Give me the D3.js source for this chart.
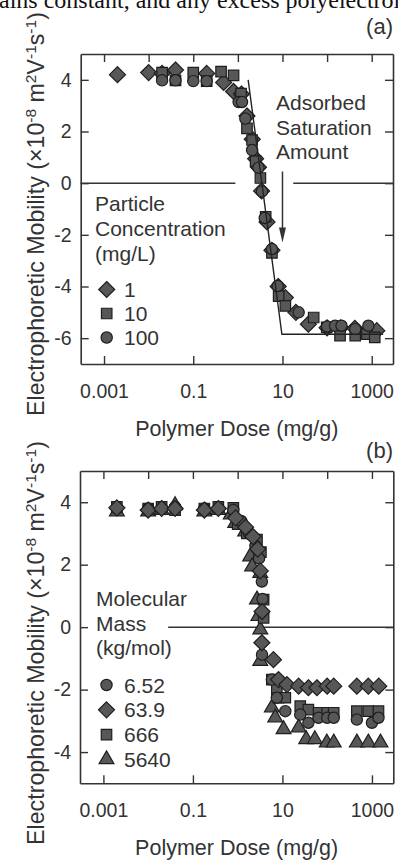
<!DOCTYPE html>
<html><head><meta charset="utf-8">
<script src="https://cdn.jsdelivr.net/npm/d3@7"></script>
<style>
html,body{margin:0;padding:0;background:#fff;overflow:hidden}
svg{display:block}
text{font-family:"Liberation Sans",Arial,sans-serif;fill:#333}
</style></head><body>
<svg id="c" width="398" height="860"></svg>
<script>
// ---------- DATA ----------
const xTicksAll = [0.001, 0.01, 0.1, 1, 10, 100, 1000];
const xTicksLabeled = [0.001, 0.1, 10, 1000];
const yTicksA = [-6, -4, -2, 0, 2, 4];
const yTicksB = [-4, -2, 0, 2, 4];

// Panel (a): particle concentration (mg/L)
const legendA = ["1", "10", "100"];
const a_c1 = [[0.002,4.2],[0.01,4.28],[0.02,4.25],[0.04,4.38],[0.2,4.25],[0.48,3.9],[0.8,3.55],[1.2,3.45],[1.6,2.6],[2.1,1.7],[2.5,0.95],[2.9,0.62],[3.4,-0.3],[4.5,-1.5],[5.8,-2.6],[8.0,-4.0],[11.6,-4.43],[20,-5.0],[38,-5.46],[100,-5.6],[200,-5.6],[420,-5.62],[1300,-5.71]];
const a_c10 = [[0.02,4.28],[0.04,3.98],[0.1,4.28],[0.2,3.95],[0.42,4.32],[0.8,4.17],[1.18,3.47],[1.6,2.12],[2.08,1.67],[2.5,0.85],[3.2,0.2],[4.2,-1.3],[5.8,-2.7],[8.2,-4.37],[11.6,-4.75],[50,-5.2],[98,-5.58],[195,-5.9],[427,-5.9],[780,-5.84],[1170,-5.97]];
const a_c100 = [[0.02,3.98],[0.04,3.98],[0.1,3.95],[0.2,3.95],[1.04,3.14],[1.24,3.14],[1.47,2.5],[2.08,1.28],[2.9,0.6],[3.47,-0.32],[4.0,-1.35],[5.8,-2.55],[7.8,-3.98],[23,-5.0],[100,-5.55],[151,-5.52],[210,-5.52],[427,-5.65],[841,-5.52]];
const fitA = [[1.7,4.0],[9.7,-5.85],[1800,-5.85]];
const zeroSegA = [[0.0003,0.88],[17.4,3000]];
const arrowA = {x:10, from:0.45, to:-2.3};
const noteA = ["Adsorbed","Saturation","Amount"];
const legendTitleA = ["Particle","Concentration","(mg/L)"];

// Panel (b): molecular mass (kg/mol)
const legendB = ["6.52", "63.9", "666", "5640"];
const b_m1 = [[0.002,3.8],[0.01,3.8],[0.02,3.8],[0.04,3.85],[0.18,3.8],[0.37,3.8],[0.8,3.75],[1.2,3.4],[1.8,3.0],[2.5,2.6],[3.0,2.2],[3.47,1.46],[3.6,0.9],[3.5,-0.88],[5.8,-1.68],[7.5,-2.26],[11.6,-2.69],[25,-2.8],[38,-3.06],[64,-2.9],[100,-2.9],[140,-2.9],[460,-2.96],[1000,-3.06],[1400,-2.9]];
const b_m2 = [[0.002,3.82],[0.01,3.75],[0.02,3.8],[0.04,3.8],[0.18,3.75],[0.37,3.8],[0.9,3.5],[1.5,3.2],[2.2,2.9],[2.8,2.5],[3.2,1.8],[3.5,0.5],[3.47,-0.5],[6.3,-1.04],[8.2,-1.68],[12.6,-1.84],[23,-1.89],[38,-1.94],[59,-1.94],[100,-1.89],[140,-1.89],[460,-1.89],[830,-1.89],[1420,-1.89]];
const b_m3 = [[0.002,3.85],[0.01,3.8],[0.02,3.85],[0.04,3.75],[0.18,3.8],[0.37,3.85],[0.8,3.82],[1.0,3.3],[1.6,3.0],[2.7,2.8],[3.3,2.4],[3.8,0.88],[3.8,0.3],[5.8,-1.68],[7.5,-2.0],[8.2,-2.26],[11.6,-2.26],[25,-2.53],[38,-2.64],[64,-2.74],[100,-2.74],[140,-2.74],[460,-2.69],[830,-2.69],[1400,-2.69]];
const b_m4 = [[0.002,3.7],[0.01,3.7],[0.02,3.75],[0.04,3.9],[0.18,3.7],[0.37,3.75],[0.7,3.6],[0.88,3.33],[1.47,3.06],[1.9,2.26],[2.1,1.94],[3.2,1.73],[2.7,0.88],[2.9,0.35],[3.2,-0.08],[3.2,-1.09],[5.8,-2.58],[6.9,-2.9],[10.6,-3.27],[23,-3.22],[34,-3.59],[53,-3.59],[98,-3.7],[140,-3.7],[460,-3.7],[830,-3.7],[1550,-3.7]];
const zeroSegB = [[0.028,3000]];
const legendTitleB = ["Molecular","Mass","(kg/mol)"];

const xTitle = "Polymer Dose (mg/g)";
const topText = "ains constant, and any excess polyelectrolyte";

// ---------- DRAW ----------
const svg = d3.select("#c");
const FILL = "#575757", STROKE = "#1e1e1e", AX = "#333";

svg.append("text").attr("x",-1).attr("y",8)
  .style("font-family",'"Liberation Serif","Times New Roman",serif')
  .style("font-size","24px").style("fill","#111").text(topText);

const sym = {
  square: d3.symbol().type(d3.symbolSquare).size(110),
  circle: d3.symbol().type(d3.symbolCircle).size(100),
  triangle: d3.symbol().type(d3.symbolTriangle).size(95)
};
function diamondPath(r){return `M0,${-r}L${r},0L0,${r}L${-r},0Z`;}
function shape(name){
  if(name==="diamond") return diamondPath(8);
  return sym[name]();
}

function panel(cfg){
  const x = d3.scaleLog().domain([0.0003,3000]).range([cfg.left,cfg.right]);
  const y = d3.scaleLinear().domain(cfg.ydom).range([cfg.bottom,cfg.top]);
  const g = svg.append("g");
  const fs = "19.5px";
  const ax = (sel)=>{sel.selectAll("path").attr("stroke",AX).attr("stroke-width",1.6);
    sel.selectAll("line").attr("stroke",AX).attr("stroke-width",1.4);
    sel.selectAll("text").style("font-size",fs).style("fill","#333").attr("font-family",null);};
  g.append("g").attr("transform",`translate(0,${cfg.bottom})`)
    .call(d3.axisBottom(x).tickValues(xTicksLabeled).tickSizeInner(-8).tickSizeOuter(0).tickPadding(20)
      .tickFormat(d=>String(d))).call(ax);
  g.append("g").attr("transform",`translate(0,${cfg.top})`)
    .call(d3.axisTop(x).tickValues(xTicksAll).tickSizeInner(-8).tickSizeOuter(0).tickFormat("")).call(ax);
  g.append("g").attr("transform",`translate(${cfg.left},0)`)
    .call(d3.axisLeft(y).tickValues(cfg.yticks).tickSizeInner(-8).tickSizeOuter(0).tickPadding(9)
      .tickFormat(d=>String(d))).call(ax);
  g.append("g").attr("transform",`translate(${cfg.right},0)`)
    .call(d3.axisRight(y).tickValues(cfg.yticks).tickSizeInner(-8).tickSizeOuter(0).tickFormat("")).call(ax);
  cfg.zero.forEach(s=>{
    g.append("line").attr("x1",x(s[0])).attr("x2",x(s[1])).attr("y1",y(0)).attr("y2",y(0))
      .attr("stroke",AX).attr("stroke-width",1.5);
  });
  g.append("text").attr("x",(cfg.left+cfg.right)/2).attr("y",cfg.bottom+72)
    .attr("text-anchor","middle").style("font-size","21.5px").text(xTitle);
  const yt = g.append("text").attr("transform",`translate(${cfg.ytx},${cfg.ytc}) rotate(-90)`)
    .attr("text-anchor","middle").style("font-size","23.2px");
  yt.append("tspan").text("Electrophoretic Mobility (\u00d710");
  yt.append("tspan").attr("dy",-8).style("font-size","15.5px").text("-8");
  yt.append("tspan").attr("dy",8).text(" m");
  yt.append("tspan").attr("dy",-8).style("font-size","15.5px").text("2");
  yt.append("tspan").attr("dy",8).text("V");
  yt.append("tspan").attr("dy",-8).style("font-size","15.5px").text("-1");
  yt.append("tspan").attr("dy",8).text("s");
  yt.append("tspan").attr("dy",-8).style("font-size","15.5px").text("-1");
  yt.append("tspan").attr("dy",8).text(")");
  g.append("text").attr("x",393).attr("y",cfg.labelY).attr("text-anchor","end")
    .style("font-size","22px").text(cfg.label);
  return {g,x,y};
}

function drawSeries(p, data, shp){
  p.g.append("g").selectAll("path").data(data).join("path")
    .attr("transform",d=>`translate(${p.x(d[0])},${p.y(d[1])})`)
    .attr("d",shape(shp)).attr("fill",FILL).attr("stroke",STROKE).attr("stroke-width",1.2);
}

// ---- Panel a ----
const pa = panel({left:80.7,right:393,top:54,bottom:364,ydom:[-7,5],yticks:yTicksA,zero:zeroSegA,
  ytx:44,ytc:214,label:"(a)",labelY:34});
pa.g.append("line").attr("x1",pa.x(arrowA.x)).attr("x2",pa.x(arrowA.x))
  .attr("y1",pa.y(arrowA.from)).attr("y2",pa.y(arrowA.to)-12).attr("stroke",AX).attr("stroke-width",1.5);
pa.g.append("path").attr("d",()=>{const ax=pa.x(arrowA.x), ay=pa.y(arrowA.to);
  return `M${ax-3.5},${ay-15}L${ax+3.5},${ay-15}L${ax},${ay}Z`;}).attr("fill",AX);
noteA.forEach((t,i)=>pa.g.append("text").attr("x",276).attr("y",110+i*24.5).style("font-size","21px").text(t));
drawSeries(pa,a_c1,"diamond");
drawSeries(pa,a_c10,"square");
drawSeries(pa,a_c100,"circle");
pa.g.append("path").datum(fitA).attr("fill","none").attr("stroke","#222").attr("stroke-width",1.4)
  .attr("d",d3.line().x(d=>pa.x(d[0])).y(d=>pa.y(d[1])));
legendTitleA.forEach((t,i)=>pa.g.append("text").attr("x",95).attr("y",210.5+i*25.2).style("font-size","21px").text(t));
["diamond","square","circle"].forEach((s,i)=>{
  const cy = 289.5+i*24;
  pa.g.append("path").attr("transform",`translate(106.7,${cy})`).attr("d",shape(s))
    .attr("fill",FILL).attr("stroke",STROKE).attr("stroke-width",1.2);
  pa.g.append("text").attr("x",124).attr("y",cy+7.5).style("font-size","21px").text(legendA[i]);
});

// ---- Panel b ----
const pb = panel({left:80,right:393.3,top:471,bottom:783.3,ydom:[-5,5],yticks:yTicksB,zero:zeroSegB,
  ytx:44,ytc:643,label:"(b)",labelY:458});
drawSeries(pb,b_m4,"triangle");
drawSeries(pb,b_m3,"square");
drawSeries(pb,b_m1,"circle");
drawSeries(pb,b_m2,"diamond");
legendTitleB.forEach((t,i)=>pb.g.append("text").attr("x",96).attr("y",606+i*24.5).style("font-size","21px").text(t));
["circle","diamond","square","triangle"].forEach((s,i)=>{
  const cy = 685+i*24.8;
  pb.g.append("path").attr("transform",`translate(106.5,${cy})`).attr("d",shape(s))
    .attr("fill",FILL).attr("stroke",STROKE).attr("stroke-width",1.2);
  pb.g.append("text").attr("x",124).attr("y",cy+7.5).style("font-size","21px").text(legendB[i]);
});
</script></body></html>
